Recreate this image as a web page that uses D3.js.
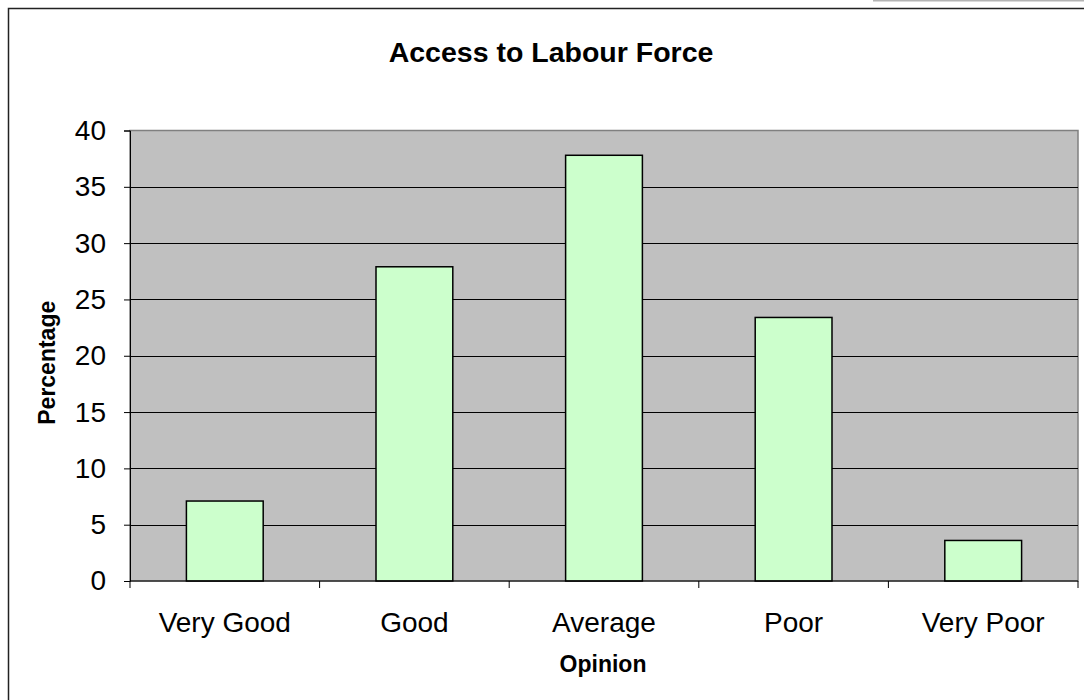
<!DOCTYPE html>
<html><head><meta charset="utf-8">
<script src="https://cdn.jsdelivr.net/npm/d3@7"></script>
<style>html,body{margin:0;padding:0;background:#fff;}svg{display:block;font-family:Arial,"Liberation Sans",sans-serif;}</style>
</head><body>
<script>
const categories = ["Very Good", "Good", "Average", "Poor", "Very Poor"];
const values = [7.1, 27.9, 37.8, 23.4, 3.6];
const yTicks = [0, 5, 10, 15, 20, 25, 30, 35, 40];
const title = "Access to Labour Force";
const xTitle = "Opinion";
const yTitle = "Percentage";

(function () {
const W = 1084, H = 700;
const svg = d3.select("body").append("svg").attr("width", W).attr("height", H);

// top-right stray line
svg.append("rect").attr("x", 873).attr("y", 0).attr("width", 211).attr("height", 1.5).attr("fill", "#b4b4b4");
// outer chart border
svg.append("rect").attr("x", 8.5).attr("y", 8.5).attr("width", 1100).attr("height", 720)
  .attr("fill", "#fff").attr("stroke", "#222").attr("stroke-width", 1.5);

const pL = 130, pR = 1078, pT = 130.5, pB = 581;
const x = d3.scaleBand().domain(categories).range([pL, pR]).paddingInner(0.595).paddingOuter(0.2975);
const y = d3.scaleLinear().domain([0, 40]).range([pB, pT]);

// plot area
svg.append("rect").attr("x", pL).attr("y", pT).attr("width", pR - pL).attr("height", pB - pT)
  .attr("fill", "#c0c0c0").attr("stroke", "#808080").attr("stroke-width", 1.5);

// gridlines
svg.append("g").selectAll("line").data(yTicks.filter(d => d > 0 && d < 40)).join("line")
  .attr("x1", pL).attr("x2", pR).attr("y1", d => Math.round(y(d)) + 0.5).attr("y2", d => Math.round(y(d)) + 0.5)
  .attr("stroke", "#000").attr("stroke-width", 1);

// bars
svg.append("g").selectAll("rect").data(values).join("rect")
  .attr("x", (d, i) => x(categories[i]))
  .attr("y", d => y(d))
  .attr("width", x.bandwidth())
  .attr("height", d => pB - y(d))
  .attr("fill", "#ccffcc").attr("stroke", "#000").attr("stroke-width", 1.5);

// y axis
const yAxis = d3.axisLeft(y).tickValues(yTicks).tickSize(6).tickPadding(18);
const gy = svg.append("g").attr("transform", `translate(${pL},0)`).call(yAxis);
gy.select(".domain").attr("stroke", "#000");
gy.selectAll(".tick line").attr("stroke", "#000");
gy.selectAll("text").attr("font-size", 28).attr("font-family", "Arial, 'Liberation Sans', sans-serif").attr("fill", "#000");

// x axis
const xOuter = d3.scalePoint().domain(d3.range(categories.length + 1)).range([pL, pR]);
svg.append("line").attr("x1", pL).attr("x2", pR).attr("y1", pB).attr("y2", pB).attr("stroke", "#000");
svg.append("g").selectAll("line").data(d3.range(categories.length + 1)).join("line")
  .attr("x1", d => xOuter(d)).attr("x2", d => xOuter(d)).attr("y1", pB).attr("y2", pB + 7).attr("stroke", "#000");
svg.append("g").selectAll("text").data(categories).join("text")
  .attr("x", d => x(d) + x.bandwidth() / 2).attr("y", 632)
  .attr("text-anchor", "middle").attr("font-size", 28).attr("fill", "#000").text(d => d);

// titles
svg.append("text").attr("x", 551).attr("y", 62).attr("text-anchor", "middle")
  .attr("font-size", 28.5).attr("font-weight", "bold").text(title);
svg.append("text").attr("x", (pL + pR) / 2 - 1).attr("y", 672).attr("text-anchor", "middle")
  .attr("font-size", 23).attr("font-weight", "bold").text(xTitle);
svg.append("text").attr("transform", `translate(55,${(pT + pB) / 2 + 7}) rotate(-90)`).attr("text-anchor", "middle")
  .attr("font-size", 23).attr("font-weight", "bold").text(yTitle);
})();
</script>
</body></html>
